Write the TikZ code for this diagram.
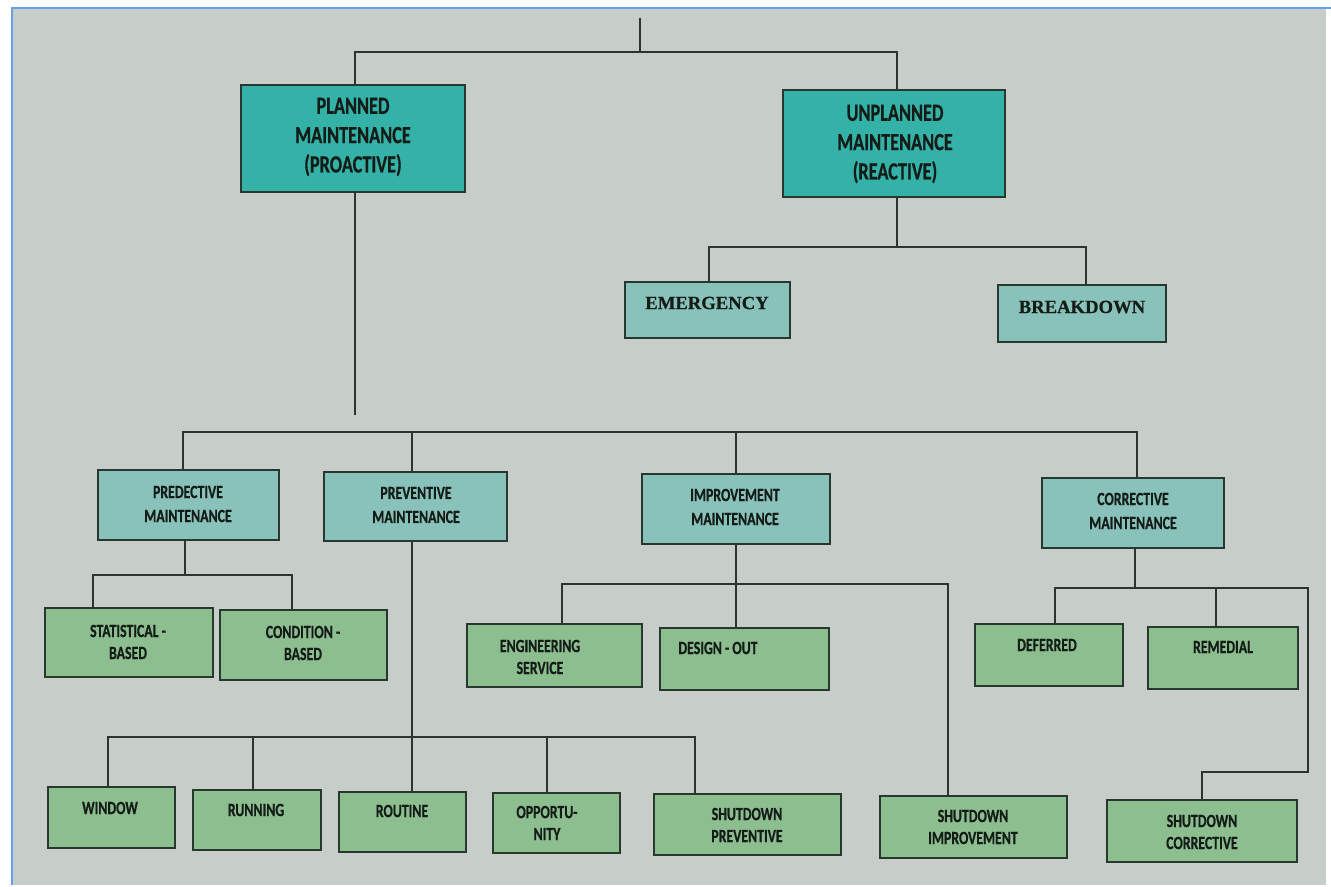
\documentclass[tikz,border=0pt]{standalone}
\usepackage{fontspec}
\usetikzlibrary{fit}
\newfontfamily\cfont[FakeStretch=0.74, BoldFeatures={FakeBold=0.6}]{Carlito}
\newfontfamily\sfont[BoldFeatures={FakeBold=0.4}]{Liberation Serif}
\definecolor{bgc}{RGB}{199,205,200}
\definecolor{framec}{RGB}{100,160,235}
\definecolor{topc}{RGB}{52,178,168}
\definecolor{midc}{RGB}{137,194,186}
\definecolor{leafc}{RGB}{141,190,143}
\definecolor{edgec}{RGB}{40,56,46}
\definecolor{linec}{RGB}{45,52,48}
\definecolor{txtc}{RGB}{20,28,24}
\begin{document}
\begin{tikzpicture}[x=0.75pt,y=-0.75pt,
  box/.style={draw=edgec, line width=1.4pt, inner sep=0pt},
  topbox/.style={box, fill=topc},
  midbox/.style={box, fill=midc},
  leafbox/.style={box, fill=leafc},
  toptxt/.style={font=\cfont\bfseries\fontsize{18.5}{22}\selectfont, align=center, text=txtc, inner sep=0pt},
  midtxt/.style={font=\cfont\bfseries\fontsize{14}{18}\selectfont, align=center, text=txtc, inner sep=0pt},
  leaftxt/.style={font=\cfont\bfseries\fontsize{14}{16.5}\selectfont, align=center, text=txtc, inner sep=0pt},
  sertxt/.style={font=\sfont\bfseries\fontsize{14}{16}\selectfont, text=txtc, inner sep=0pt},
  conn/.style={draw=linec, line width=1.3pt}]
% page and photo
\useasboundingbox (0,0) rectangle (1331,887);
\fill[white] (0,0) rectangle (1331,887);
\fill[bgc] (13,9) rectangle (1326,885);
\draw[framec, line width=2pt] (12,885) -- (12,8) -- (1331,8);

% ---------- boxes ----------
\node[topbox, fit={(241,85) (465,192)}] (planned) {};
\node[topbox, fit={(783,90) (1005,197)}] (unplanned) {};
\node[midbox, fit={(625,282) (790,338)}] (emergency) {};
\node[midbox, fit={(998,285) (1166,342)}] (breakdown) {};
\node[midbox, fit={(98,470) (279,540)}] (predective) {};
\node[midbox, fit={(324,472) (507,541)}] (preventive) {};
\node[midbox, fit={(642,474) (830,544)}] (improvement) {};
\node[midbox, fit={(1042,478) (1224,548)}] (corrective) {};
\node[leafbox, fit={(45,608) (213,677)}] (statistical) {};
\node[leafbox, fit={(220,610) (387,680)}] (condition) {};
\node[leafbox, fit={(467,624) (642,687)}] (engineering) {};
\node[leafbox, fit={(660,628) (829,690)}] (designout) {};
\node[leafbox, fit={(975,624) (1123,686)}] (deferred) {};
\node[leafbox, fit={(1148,627) (1298,689)}] (remedial) {};
\node[leafbox, fit={(48,787) (175,848)}] (window) {};
\node[leafbox, fit={(193,790) (321,850)}] (running) {};
\node[leafbox, fit={(339,792) (466,852)}] (routine) {};
\node[leafbox, fit={(493,793) (620,853)}] (opportu) {};
\node[leafbox, fit={(654,794) (841,855)}] (shutprev) {};
\node[leafbox, fit={(880,796) (1067,858)}] (shutimp) {};
\node[leafbox, fit={(1107,800) (1297,862)}] (shutcor) {};

% ---------- texts ----------
\node[toptxt] (plannedt) at (353,137) {PLANNED\\MAINTENANCE\\(PROACTIVE)};
\node[toptxt] (unplannedt) at (895,144) {UNPLANNED\\MAINTENANCE\\(REACTIVE)};
\node[sertxt] (emergencyt) at (707,303) {EMERGENCY};
\node[sertxt] (breakdownt) at (1082,307) {BREAKDOWN};
\node[midtxt] (predectivet) at (188,504) {PREDECTIVE\\MAINTENANCE};
\node[midtxt] (preventivet) at (416,505) {PREVENTIVE\\MAINTENANCE};
\node[midtxt] (improvementt) at (735,507) {IMPROVEMENT\\MAINTENANCE};
\node[midtxt] (correctivet) at (1133,511) {CORRECTIVE\\MAINTENANCE};
\node[leaftxt] (statisticalt) at (128,642) {STATISTICAL -\\BASED};
\node[leaftxt] (conditiont) at (303,643) {CONDITION -\\BASED};
\node[leaftxt] (engineeringt) at (540,657) {ENGINEERING\\SERVICE};
\node[leaftxt] (designoutt) at (718,648) {DESIGN - OUT};
\node[leaftxt] (deferredt) at (1047,645) {DEFERRED};
\node[leaftxt] (remedialt) at (1223,647) {REMEDIAL};
\node[leaftxt] (windowt) at (110,808) {WINDOW};
\node[leaftxt] (runningt) at (256,810) {RUNNING};
\node[leaftxt] (routinet) at (402,811) {ROUTINE};
\node[leaftxt] (opportut) at (547,823) {OPPORTU-\\NITY};
\node[leaftxt] (shutprevt) at (747,825) {SHUTDOWN\\PREVENTIVE};
\node[leaftxt] (shutimpt) at (973,827) {SHUTDOWN\\IMPROVEMENT};
\node[leaftxt] (shutcort) at (1202,832) {SHUTDOWN\\CORRECTIVE};

% ---------- junction coordinates ----------
\coordinate (rt) at (640,18);
\coordinate (rj) at (640,52);
\coordinate (rl) at (355,52);
\coordinate (rr) at (897,52);
\coordinate (pend) at (355,415);
\coordinate (um) at (897,247);
\coordinate (ue) at (709,247);
\coordinate (ub) at (1086,247);
\coordinate (ba) at (183,432);
\coordinate (bb) at (412,432);
\coordinate (bc) at (736,432);
\coordinate (bd) at (1137,432);
\coordinate (pm) at (185,575);
\coordinate (ps) at (93,575);
\coordinate (pc) at (292,575);
\coordinate (vw) at (108,737);
\coordinate (vr) at (253,737);
\coordinate (vm) at (412,737);
\coordinate (vo) at (547,737);
\coordinate (vs) at (695,737);
\coordinate (ie) at (562,584);
\coordinate (ic) at (736,584);
\coordinate (ir) at (948,584);
\coordinate (cd) at (1055,588);
\coordinate (cm) at (1135,588);
\coordinate (cre) at (1216,588);
\coordinate (cr) at (1308,588);
\coordinate (ck) at (1308,772);
\coordinate (ck2) at (1202,772);

% ---------- connectors ----------
\draw[conn] (rt) -- (rj);
\draw[conn] (planned.north -| rl) -- (rl) -- (rr) -- (unplanned.north -| rr);
\draw[conn] (planned.south -| rl) -- (pend);
\draw[conn] (unplanned.south -| um) -- (um);
\draw[conn] (emergency.north -| ue) -- (ue) -- (ub) -- (breakdown.north -| ub);
\draw[conn] (predective.north -| ba) -- (ba) -- (bd) -- (corrective.north -| bd);
\draw[conn] (bb) -- (preventive.north -| bb);
\draw[conn] (bc) -- (improvement.north -| bc);
\draw[conn] (predective.south -| pm) -- (pm);
\draw[conn] (statistical.north -| ps) -- (ps) -- (pc) -- (condition.north -| pc);
\draw[conn] (preventive.south -| vm) -- (routine.north -| vm);
\draw[conn] (window.north -| vw) -- (vw) -- (vs) -- (shutprev.north -| vs);
\draw[conn] (vr) -- (running.north -| vr);
\draw[conn] (vo) -- (opportu.north -| vo);
\draw[conn] (improvement.south -| ic) -- (designout.north -| ic);
\draw[conn] (engineering.north -| ie) -- (ie) -- (ir) -- (shutimp.north -| ir);
\draw[conn] (corrective.south -| cm) -- (cm);
\draw[conn] (deferred.north -| cd) -- (cd) -- (cr) -- (ck) -- (ck2) -- (shutcor.north -| ck2);
\draw[conn] (cre) -- (remedial.north -| cre);
\end{tikzpicture}
\end{document}
